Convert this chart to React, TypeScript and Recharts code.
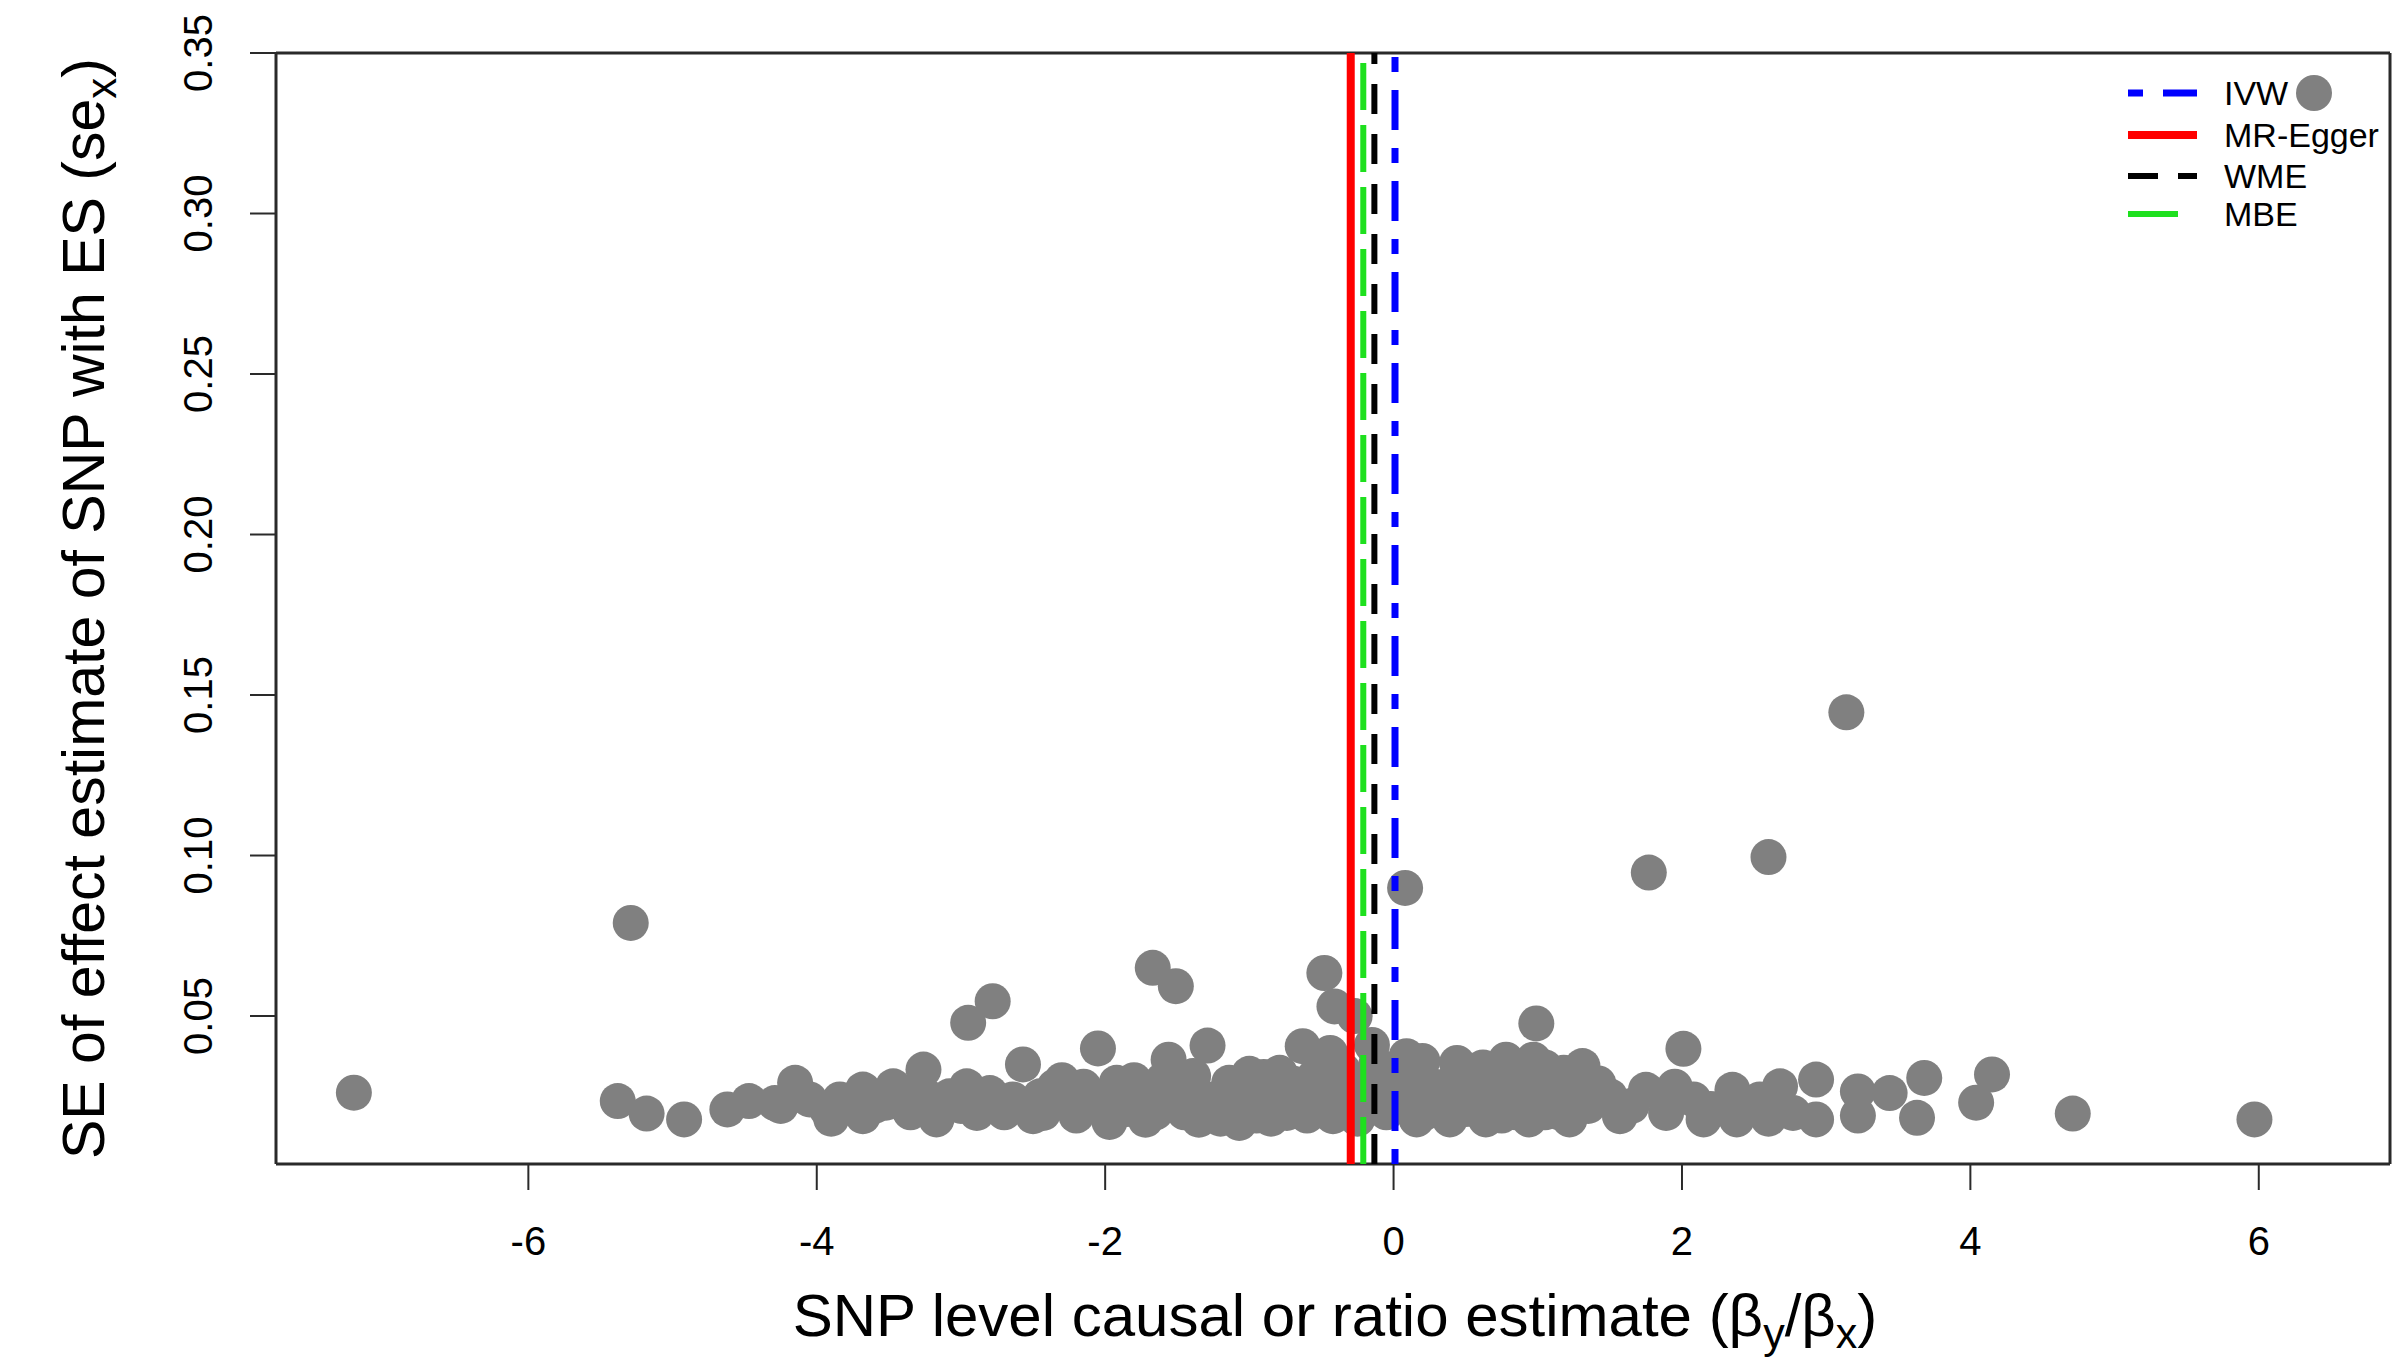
import React from 'react';
import { ScatterChart, Scatter, XAxis, YAxis, ReferenceLine, Legend, Label } from 'recharts';

// ---- axis setup ----
const xTicks = [-6, -4, -2, 0, 2, 4, 6];
const yTicks = [0.05, 0.1, 0.15, 0.2, 0.25, 0.3, 0.35];
const xDomain = [-7.75, 6.91];
const yDomain = [0.0039, 0.35];

// ---- SNP level data (ratio estimate, SE) ----
const snpRatio = [
  -7.21, -5.29, -5.38, -5.18, -4.92, -4.62, -4.47, -4.29, -4.15, -4.25,
  -4.05, -3.93, -3.9, -3.84, -3.68, -3.68, -3.6, -3.52, -3.47, -3.35,
  -3.26, -3.24, -3.17, -3.08, -3.0, -2.96, -2.95, -2.89, -2.8, -2.78,
  -2.64, -2.57, -2.5, -2.43, -2.35, -2.27, -2.2, -2.11, -2.05, -2.0,
  -1.97, -1.92, -1.85, -1.74, -1.72, -1.67, -1.6, -1.56, -1.53, -1.51,
  -1.45, -1.39, -1.35, -1.29, -1.25, -1.2, -1.14, -1.07, -1.0, -0.93,
  -0.9, -0.85, -0.79, -0.74, -0.7, -0.65, -0.63, -0.58, -0.5, -0.48,
  -0.44, -0.42, -0.41, -0.35, -0.3, -0.27, -0.25, -0.2, -0.15, -0.1,
  -0.05, 0.04, 0.08, 0.09, 0.1, 0.16, 0.2, 0.27, 0.3, 0.39,
  0.44, 0.45, 0.55, 0.6, 0.64, 0.7, 0.78, 0.83, 0.85, 0.9,
  0.94, 0.97, 0.99, 1.05, 1.11, 1.18, 1.2, 1.22, 1.31, 1.35,
  1.42, 1.5, 1.57, 1.65, 1.75, 1.77, 1.89, 1.95, 2.01, 2.08,
  2.15, 2.2, 2.35, 2.38, 2.45, 2.54, 2.6, 2.6, 2.68, 2.77,
  2.93, 2.93, 3.14, 3.22, 3.22, 3.44, 3.63, 3.68, 4.04, 4.15,
  4.71, 5.97,
  -2.3, -2.15, -1.8, -1.65, -1.4, -1.3, -1.15, -0.95, -0.8, -0.6,
  -0.55, -0.38, -0.32, -0.18, -0.12, 0.0, 0.12, 0.22, 0.35, 0.5,
  0.52, 0.68, 0.75, 0.88, 1.0, 1.05, 1.15, 1.28, 0.2, 0.62,
  -1.0, -1.5, -1.8, -2.45, -3.4, -2.7,
];
const snpSe = [
  0.0261, 0.079, 0.0235, 0.0196, 0.0178, 0.0209, 0.0235, 0.0229, 0.0292, 0.022,
  0.024, 0.0209, 0.018, 0.024, 0.0188, 0.0271, 0.022, 0.023, 0.0281, 0.02,
  0.0333, 0.025, 0.0178, 0.025, 0.022, 0.0281, 0.0479, 0.0198, 0.026, 0.0546,
  0.024, 0.0349, 0.0188, 0.0198, 0.028, 0.024, 0.019, 0.0219, 0.0399, 0.025,
  0.017, 0.0292, 0.021, 0.028, 0.0177, 0.065, 0.03, 0.0364, 0.024, 0.0593,
  0.02, 0.0313, 0.0177, 0.0408, 0.024, 0.018, 0.0292, 0.0167, 0.022, 0.026,
  0.031, 0.018, 0.0323, 0.0198, 0.029, 0.025, 0.0406, 0.027, 0.023, 0.0634,
  0.0385, 0.0188, 0.053, 0.033, 0.028, 0.05, 0.018, 0.022, 0.041, 0.03,
  0.02, 0.027, 0.0899, 0.0375, 0.024, 0.0178, 0.031, 0.026, 0.021, 0.0178,
  0.0354, 0.024, 0.027, 0.031, 0.0178, 0.022, 0.0364, 0.027, 0.02, 0.031,
  0.0178, 0.0364, 0.0477, 0.02, 0.025, 0.0323, 0.028, 0.0178, 0.0344, 0.022,
  0.029, 0.025, 0.0188, 0.022, 0.027, 0.0947, 0.0198, 0.028, 0.0398, 0.024,
  0.0178, 0.021, 0.027, 0.0178, 0.021, 0.024, 0.0995, 0.018, 0.0281, 0.0198,
  0.0302, 0.0178, 0.1446, 0.0265, 0.019, 0.026, 0.0183, 0.0307, 0.023, 0.0318,
  0.0196, 0.0178,
  0.03, 0.028, 0.024, 0.02, 0.025, 0.021, 0.025, 0.019, 0.027, 0.019,
  0.031, 0.025, 0.021, 0.027, 0.035, 0.022, 0.03, 0.02, 0.028, 0.021,
  0.033, 0.027, 0.019, 0.024, 0.028, 0.034, 0.02, 0.026, 0.036, 0.034,
  0.032, 0.029, 0.03, 0.025, 0.025, 0.02,
];

// ---- method estimates ----
const methodNames = ['IVW', 'MR-Egger', 'WME', 'MBE'];
const methodEstimates = [0.01, -0.297, -0.133, -0.21];

// ---- styles (kept apart from data) ----
const methodStyle = [
  { color: '#0000FF', width: 7, dash: '15 18 40 18', legendDash: '15 20 40' },
  { color: '#FF0000', width: 8, dash: undefined, legendDash: undefined },
  { color: '#000000', width: 6, dash: '30 20', legendDash: '30 20' },
  { color: '#1EE01E', width: 6, dash: '47 15', legendDash: '50 30' },
];
const FONT = '"Liberation Sans", Arial, Helvetica, sans-serif';
const DOT = '#808080';
const FRAME = '#2a2a2a';

const points = snpRatio.map((x, i) => ({ x, y: snpSe[i] }));
const methodLines = methodEstimates.map((v) => [
  { x: v, y: yDomain[0] },
  { x: v, y: yDomain[1] },
]);

const Dot = (props: any) => {
  const { cx, cy } = props;
  if (cx == null || cy == null) return null;
  return <circle cx={cx} cy={cy} r={18} fill={DOT} />;
};
const NoDot = () => <g />;

const YTick = (props: any) => {
  const { x, y, payload } = props;
  const cx = x - 52;
  return (
    <text
      x={cx}
      y={y}
      transform={`rotate(-90 ${cx} ${y})`}
      textAnchor="middle"
      dominantBaseline="central"
      fontSize={40}
      fontFamily={FONT}
      fill="#000"
    >
      {Number(payload.value).toFixed(2)}
    </text>
  );
};

const XTick = (props: any) => {
  const { x, y, payload } = props;
  return (
    <text
      x={x}
      y={y + 51}
      textAnchor="middle"
      dominantBaseline="central"
      fontSize={40}
      fontFamily={FONT}
      fill="#000"
    >
      {String(payload.value)}
    </text>
  );
};

const XTitle = (props: any) => {
  const vb = props.viewBox || {};
  const cx = vb.x + vb.width / 2 + 2;
  const y = vb.y + 172;
  return (
    <text x={cx} y={y} textAnchor="middle" fontSize={60} fontFamily={FONT} fill="#000">
      SNP level causal or ratio estimate (β
      <tspan dy={12} fontSize={43}>y</tspan>
      <tspan dy={-12}>/β</tspan>
      <tspan dy={12} fontSize={43}>x</tspan>
      <tspan dy={-12}>)</tspan>
    </text>
  );
};

const YTitle = (props: any) => {
  const vb = props.viewBox || {};
  const cx = 104;
  const cy = vb.y + vb.height / 2;
  return (
    <text
      x={cx}
      y={cy}
      transform={`rotate(-90 ${cx} ${cy})`}
      textAnchor="middle"
      fontSize={59}
      fontFamily={FONT}
      fill="#000"
    >
      SE of effect estimate of SNP with ES (se
      <tspan dy={12} fontSize={42}>x</tspan>
      <tspan dy={-12}>)</tspan>
    </text>
  );
};

const LegendContent = () => {
  const rows = [33, 75, 116, 154];
  return (
    <svg width={293} height={180} style={{ display: 'block' }}>
      {methodNames.map((name, i) => (
        <g key={name}>
          <line
            x1={28}
            x2={97}
            y1={rows[i]}
            y2={rows[i]}
            stroke={methodStyle[i].color}
            strokeWidth={methodStyle[i].width}
            strokeDasharray={methodStyle[i].legendDash}
          />
          <text
            x={124}
            y={rows[i]}
            dominantBaseline="central"
            fontSize={34}
            fontFamily={FONT}
            fill="#000"
          >
            {name}
          </text>
        </g>
      ))}
      <circle cx={214} cy={rows[0]} r={18} fill={DOT} />
    </svg>
  );
};

export default function App() {
  return (
    <div style={{ position: 'absolute', left: 0, top: 0, width: 2393, height: 1361, background: '#fff' }}>
      <ScatterChart
        width={2393}
        height={1361}
        margin={{ top: 53, right: 3, bottom: 0, left: 0 }}
      >
        <XAxis
          type="number"
          dataKey="x"
          domain={xDomain}
          ticks={xTicks}
          allowDataOverflow
          height={197}
          tickSize={26}
          tickMargin={0}
          tick={<XTick />}
          axisLine={{ stroke: FRAME, strokeWidth: 3 }}
          tickLine={{ stroke: FRAME, strokeWidth: 2 }}
        >
          <Label content={<XTitle />} />
        </XAxis>
        <YAxis
          type="number"
          dataKey="y"
          domain={yDomain}
          ticks={yTicks}
          allowDataOverflow
          width={276}
          tickSize={26}
          tickMargin={0}
          tick={<YTick />}
          axisLine={{ stroke: FRAME, strokeWidth: 3 }}
          tickLine={{ stroke: FRAME, strokeWidth: 2 }}
        >
          <Label content={<YTitle />} />
        </YAxis>
        <ReferenceLine y={0.35} stroke={FRAME} strokeWidth={3} />
        <ReferenceLine x={6.91} stroke={FRAME} strokeWidth={3} />
        <Scatter data={points} shape={<Dot />} isAnimationActive={false} />
        {methodNames.map((name, i) => (
          <Scatter
            key={name}
            name={name}
            data={methodLines[i]}
            shape={<NoDot />}
            line={{
              stroke: methodStyle[i].color,
              strokeWidth: methodStyle[i].width,
              strokeDasharray: methodStyle[i].dash,
            }}
            lineType="joint"
            isAnimationActive={false}
          />
        ))}
        <Legend
          layout="horizontal"
          verticalAlign="middle"
          align="center"
          content={<LegendContent />}
          wrapperStyle={{ position: 'absolute', left: 2100, top: 60, width: 293, height: 180 }}
        />
      </ScatterChart>
    </div>
  );
}
